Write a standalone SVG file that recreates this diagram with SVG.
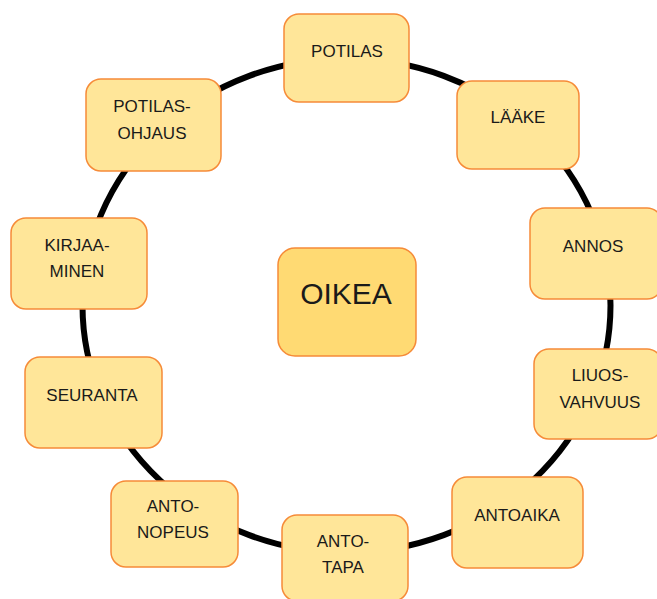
<svg xmlns="http://www.w3.org/2000/svg" width="657" height="599" viewBox="0 0 657 599">
<style>
.n{fill:#FFE699;stroke:#F68B38;stroke-width:1.5}
.c{fill:#FFDA73;stroke:#F68B38;stroke-width:1.5}
text{font-family:"Liberation Sans",Arial,sans-serif;font-size:17px;fill:#1a1a1a;text-anchor:middle}
.big{font-size:30px}
</style>
<rect width="657" height="599" fill="#fff"/>
<g id="connectors">
<ellipse cx="346.5" cy="305.5" rx="264" ry="247" fill="none" stroke="#000" stroke-width="6"/>
</g>
<g id="potilas"><rect class="n" x="284" y="14" width="125" height="88" rx="15"/><text x="347" y="57">POTILAS</text></g>
<g id="laake"><rect class="n" x="457" y="81" width="122" height="88" rx="15"/><text x="518" y="123">LÄÄKE</text></g>
<g id="annos"><rect class="n" x="530" y="208" width="132" height="91" rx="15"/><text x="593" y="252">ANNOS</text></g>
<g id="liuosvahvuus"><rect class="n" x="534" y="349" width="128" height="90" rx="15"/><text x="600" y="381">LIUOS-</text><text x="600" y="408">VAHVUUS</text></g>
<g id="antoaika"><rect class="n" x="452" y="477" width="131" height="91" rx="15"/><text x="517" y="521">ANTOAIKA</text></g>
<g id="antotapa"><rect class="n" x="282" y="515" width="126" height="86" rx="15"/><text x="343" y="547">ANTO-</text><text x="343" y="573">TAPA</text></g>
<g id="antonopeus"><rect class="n" x="111" y="481" width="127" height="86" rx="15"/><text x="173" y="512">ANTO-</text><text x="173" y="538">NOPEUS</text></g>
<g id="seuranta"><rect class="n" x="25" y="357" width="137" height="91" rx="15"/><text x="92" y="401">SEURANTA</text></g>
<g id="kirjaaminen"><rect class="n" x="11" y="218" width="136" height="91" rx="15"/><text x="77" y="251">KIRJAA-</text><text x="77" y="277">MINEN</text></g>
<g id="potilasohjaus"><rect class="n" x="86" y="79" width="135" height="92" rx="15"/><text x="152" y="112">POTILAS-</text><text x="152" y="139">OHJAUS</text></g>
<g id="oikea"><rect class="c" x="278" y="248" width="138" height="108" rx="17"/><text class="big" x="346" y="304">OIKEA</text></g>
</svg>
